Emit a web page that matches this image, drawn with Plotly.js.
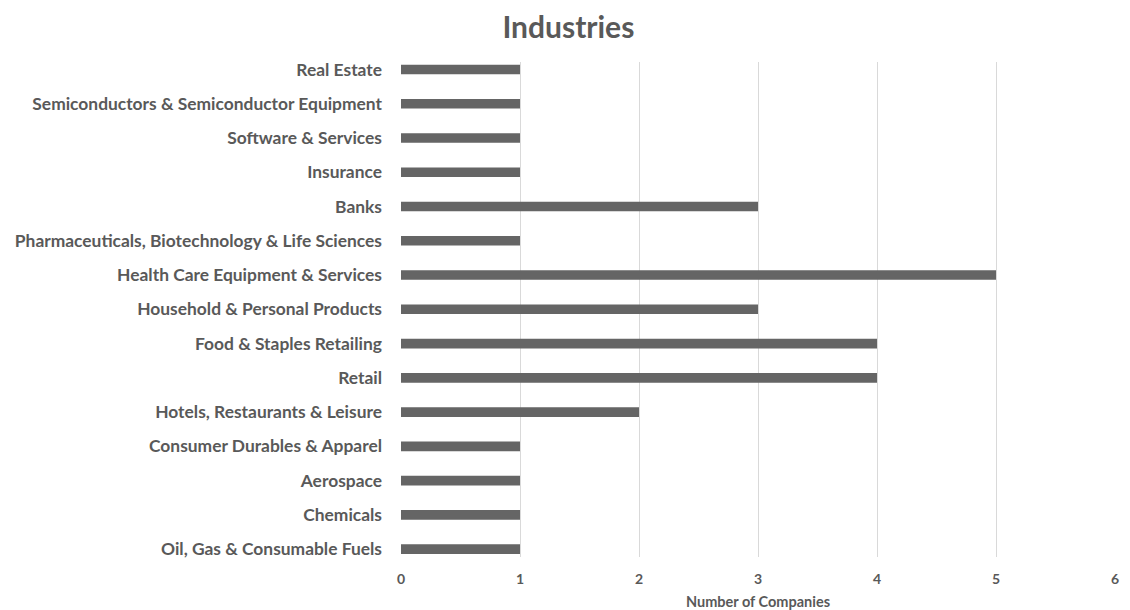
<!DOCTYPE html>
<html><head><meta charset="utf-8">
<script src="https://cdn.plot.ly/plotly-3.0.1.min.js"></script>
<style>body{margin:0;background:#fff}#chart{width:1130px;height:610px}</style>
</head><body><div id="chart"></div>
<script>
const industries = [
  "Oil, Gas & Consumable Fuels",
  "Chemicals",
  "Aerospace",
  "Consumer Durables & Apparel",
  "Hotels, Restaurants & Leisure",
  "Retail",
  "Food & Staples Retailing",
  "Household & Personal Products",
  "Health Care Equipment & Services",
  "Pharmaceuticals, Biotechnology & Life Sciences",
  "Banks",
  "Insurance",
  "Software & Services",
  "Semiconductors & Semiconductor Equipment",
  "Real Estate"
];
const companies = [1, 1, 1, 1, 2, 4, 4, 3, 5, 1, 3, 1, 1, 1, 1];
const xTicks = [0, 1, 2, 3, 4, 5, 6];

const font = "Lato, 'Open Sans', sans-serif";
const trace = {
  type: "bar",
  orientation: "h",
  y: industries,
  x: companies,
  width: 0.28,
  marker: {color: "#656565"},
  hoverinfo: "x+y"
};
const layout = {
  width: 1130, height: 610,
  margin: {l: 401, r: 15, t: 62, b: 53},
  paper_bgcolor: "#fff", plot_bgcolor: "#fff",
  title: {text: "<b>Industries</b>", x: 0.503, xanchor: "center", y: 0.955, yanchor: "middle",
          font: {family: font, size: 30, color: "#595959"}},
  xaxis: {range: [0, 6], tickvals: xTicks, ticktext: xTicks.map(v => "<b>" + v + "</b>"),
          showgrid: true, gridcolor: "#d9d9d9", gridwidth: 1, zeroline: false, showline: false,
          ticks: "", ticklen: 0, ticklabelstandoff: 12, tickfont: {family: font, size: 14, color: "#595959"},
          title: {text: "<b>Number of Companies</b>", standoff: 12, font: {family: font, size: 14.5, color: "#595959"}}},
  yaxis: {type: "category", categoryorder: "array", categoryarray: industries, range: [-0.23, 14.22],
          ticktext: industries.map(s => "<b>" + s + "</b>"), tickvals: industries,
          showgrid: false, zeroline: false, showline: false, ticks: "", ticklen: 0, ticklabelstandoff: 18,
          tickfont: {family: font, size: 17.4, color: "#595959"}},
  showlegend: false,
  bargap: 0.7
};
Plotly.newPlot("chart", [trace], layout, {displayModeBar: false, staticPlot: true});
</script></body></html>
